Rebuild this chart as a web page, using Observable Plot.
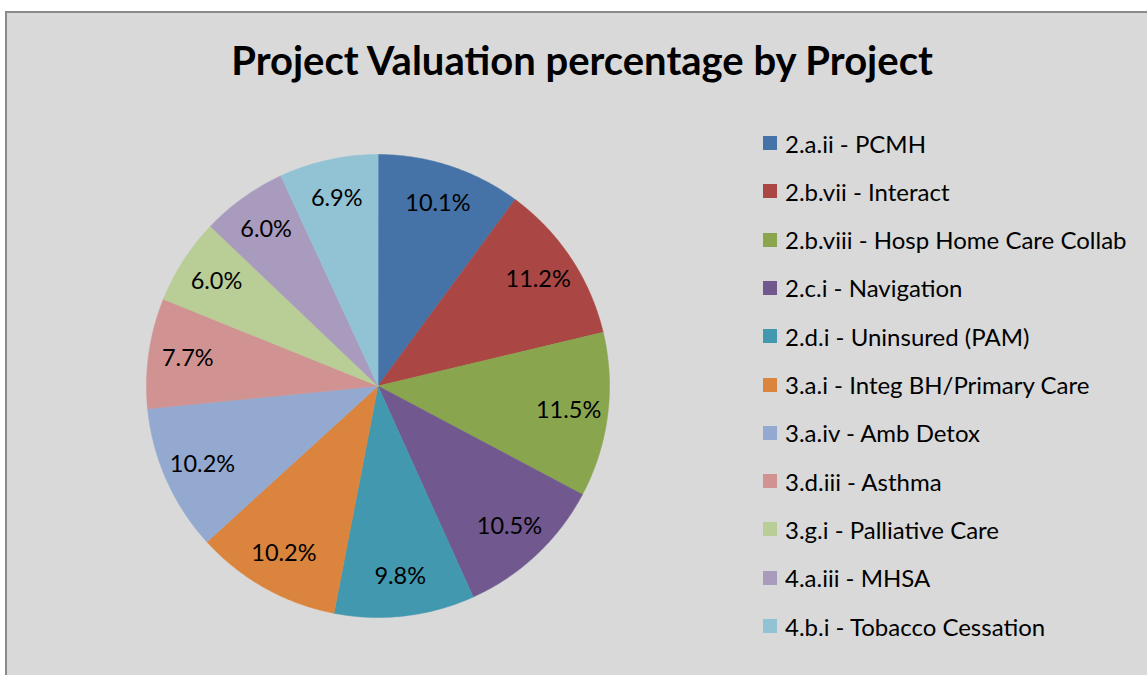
<!DOCTYPE html>
<html><head><meta charset="utf-8">
<script src="https://cdn.jsdelivr.net/npm/d3@7"></script>
<script src="https://cdn.jsdelivr.net/npm/@observablehq/plot@0.6"></script>
<style>
html,body{margin:0;padding:0;background:#fff;}
#wrap{position:relative;width:1147px;height:675px;overflow:hidden;font-family:Lato,"Open Sans",sans-serif;}
#frame{position:absolute;left:5px;top:11px;width:1200px;height:720px;background:#d9d9d9;border-left:2px solid #8a8a8a;border-top:2px solid #8a8a8a;}
#title{position:absolute;left:0;width:1164px;top:36px;text-align:center;font-weight:bold;font-size:40px;color:#000;line-height:48px;}
#chart{position:absolute;left:0;top:0;}
.leg{position:absolute;left:763px;height:26px;display:flex;align-items:center;font-size:24px;color:#000;white-space:nowrap;}
.leg span.sw{display:inline-block;width:14px;height:14px;margin-right:8px;}
</style></head>
<body>
<div id="wrap">
  <div id="frame"></div>
  <div id="title">Project Valuation percentage by Project</div>
  <div id="chart"></div>
  <div id="legend"></div>
</div>
<script>
const projects = ["2.a.ii - PCMH","2.b.vii - Interact","2.b.viii - Hosp Home Care Collab","2.c.i - Navigation","2.d.i - Uninsured (PAM)","3.a.i - Integ BH/Primary Care","3.a.iv - Amb Detox","3.d.iii - Asthma","3.g.i - Palliative Care","4.a.iii - MHSA","4.b.i - Tobacco Cessation"];
const shares = [10.1, 11.2, 11.5, 10.5, 9.8, 10.2, 10.2, 7.7, 6.0, 6.0, 6.9];
const colors = ["#4572A7","#AA4643","#89A54E","#71588F","#4198AF","#DB843D","#93A9CF","#D19392","#B9CD96","#A99BBD","#92C3D5"];

const total = d3.sum(shares);
let cum = 0;
const slices = shares.map((v, i) => {
  const a0 = cum / total * 2 * Math.PI;
  cum += v;
  const a1 = cum / total * 2 * Math.PI;
  const n = Math.max(8, Math.ceil((a1 - a0) / 0.01));
  const ring = [[0, 0]];
  for (let k = 0; k <= n; k++) {
    const a = a0 + (a1 - a0) * k / n;
    ring.push([Math.sin(a), -Math.cos(a)]);
  }
  ring.push([0, 0]);
  const mid = (a0 + a1) / 2;
  return {
    type: "Feature",
    properties: {name: projects[i], value: v, lx: 0.83 * Math.sin(mid), ly: -0.83 * Math.cos(mid)},
    geometry: {type: "Polygon", coordinates: [ring]}
  };
});
const outline = {type: "MultiPoint", coordinates: [[-1, -1], [1, 1]]};

const plot = Plot.plot({
  width: 1147,
  height: 675,
  marginLeft: 146,
  marginTop: 154,
  marginRight: 538,
  marginBottom: 58,
  style: {background: "transparent", fontFamily: "Lato, 'Open Sans', sans-serif"},
  projection: {type: "identity", domain: outline},
  color: {domain: projects, range: colors},
  marks: [
    Plot.geo(slices, {fill: d => d.properties.name, stroke: d => d.properties.name, strokeWidth: 0.5}),
    Plot.text(slices, {x: d => d.properties.lx, y: d => d.properties.ly, text: d => d.properties.value.toFixed(1) + "%", fontSize: 23.5, fill: "#000"})
  ]
});
document.getElementById("chart").appendChild(plot);

const leg = document.getElementById("legend");
const rowY = d3.scaleLinear().domain([0, projects.length - 1]).range([143, 626]);
projects.forEach((p, i) => {
  const div = document.createElement("div");
  div.className = "leg";
  div.style.top = (rowY(i) - 13) + "px";
  div.innerHTML = `<span class="sw" style="background:${colors[i]}"></span>`;
  div.appendChild(document.createTextNode(p));
  leg.appendChild(div);
});
</script>
</body></html>
